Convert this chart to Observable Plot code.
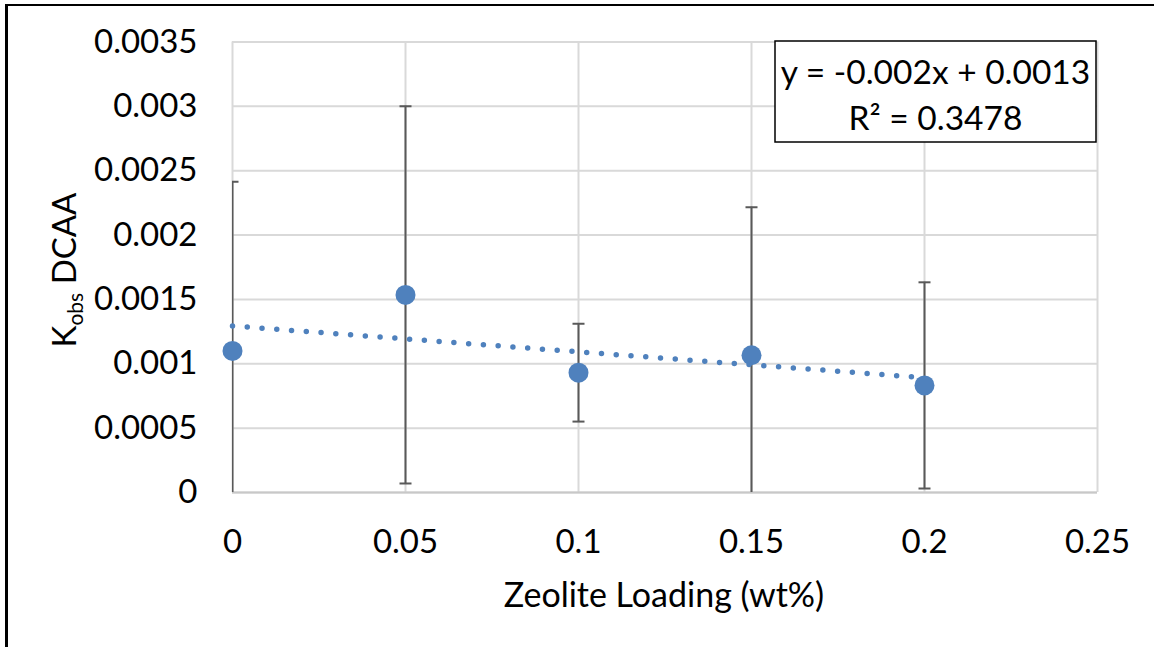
<!DOCTYPE html>
<html>
<head>
<meta charset="utf-8">
<script src="https://cdn.jsdelivr.net/npm/d3@7"></script>
<script src="https://cdn.jsdelivr.net/npm/@observablehq/plot@0.6"></script>
<style>
  html, body { margin: 0; padding: 0; background: #fff; }
  #chart { width: 1154px; height: 647px; overflow: hidden; }
</style>
</head>
<body>
<div id="chart"></div>
<script>
// ---- data ----
const loading = [0, 0.05, 0.1, 0.15, 0.2];                  // Zeolite Loading (wt%)
const kobs    = [0.00110, 0.001535, 0.000931, 0.001066, 0.000832]; // Kobs DCAA
const errs    = [0.001315, 0.001465, 0.000380, 0.001151, 0.000801]; // error bar +/- 
const xTicks  = [0, 0.05, 0.1, 0.15, 0.2, 0.25];
const yTicks  = [0, 0.0005, 0.001, 0.0015, 0.002, 0.0025, 0.003, 0.0035];
const eqLines = ["y = -0.002x + 0.0013", "R\u00B2 = 0.3478"];
const xTitle  = "Zeolite Loading (wt%)";

const rows = loading.map((x, i) => ({x, y: kobs[i], lo: kobs[i] - errs[i], hi: kobs[i] + errs[i]}));

const blue = "#4F81BD";
const errColor = "#595959";
const FONT = "Lato, 'Open Sans', sans-serif";

const capSymbol = {
  draw(ctx, size) {
    const w = 6;
    ctx.moveTo(-w, 0);
    ctx.lineTo(w, 0);
  }
};

const fmt = d => String(+d.toFixed(4));

const plot = Plot.plot({
  width: 1154,
  height: 647,
  marginLeft: 232,
  marginRight: 57,
  marginTop: 41.5,
  marginBottom: 155,
  style: {fontFamily: FONT, fontSize: "33px", color: "#000", background: "#fff"},
  x: {domain: [0, 0.25], ticks: xTicks, tickFormat: fmt, tickSize: 0, tickPadding: 37, label: null},
  y: {domain: [0, 0.0035], ticks: yTicks, tickFormat: fmt, tickSize: 0, tickPadding: 35, label: null},
  marks: [
    Plot.gridX(xTicks, {stroke: "#d9d9d9", strokeOpacity: 1, strokeWidth: 2}),
    Plot.gridY(yTicks, {stroke: "#d9d9d9", strokeOpacity: 1, strokeWidth: 2}),
    Plot.ruleY([0], {stroke: "#c8c8c8", strokeWidth: 2}),
    Plot.ruleX(rows, {x: "x", y1: "lo", y2: "hi", stroke: errColor, strokeWidth: 2, clip: true}),
    Plot.dot(rows, {x: "x", y: "hi", symbol: capSymbol, stroke: errColor, strokeWidth: 2, clip: true}),
    Plot.dot(rows, {x: "x", y: "lo", symbol: capSymbol, stroke: errColor, strokeWidth: 2, clip: true}),
    Plot.dot(rows, {x: "x", y: "y", r: 10, fill: blue, stroke: "none"}),
    Plot.linearRegressionY(rows, {x: "x", y: "y", ci: 0, stroke: blue, strokeWidth: 5.5,
      strokeDasharray: "0 14.8", strokeLinecap: "round"}),
    Plot.axisX(xTicks, {tickSize: 0, tickPadding: 37, tickFormat: fmt, fill: "#000", label: null}),
    Plot.axisY(yTicks, {tickSize: 0, tickPadding: 35, tickFormat: fmt, fill: "#000", label: null})
  ]
});

const svg = d3.select(plot);

// x axis title
svg.append("text")
  .attr("x", 664).attr("y", 598)
  .attr("text-anchor", "middle").attr("dominant-baseline", "middle")
  .attr("font-family", FONT).attr("font-size", 34).attr("fill", "#000")
  .text(xTitle);

// y axis title with subscript
const yt = svg.append("text")
  .attr("transform", "translate(76,270) rotate(-90)")
  .attr("text-anchor", "middle")
  .attr("font-family", FONT).attr("font-size", 33).attr("fill", "#000");
yt.append("tspan").text("K");
yt.append("tspan").attr("font-size", 21).attr("dy", 7).text("obs");
yt.append("tspan").attr("dy", -7).text(" DCAA");

// equation box
svg.append("rect")
  .attr("x", 775).attr("y", 41).attr("width", 321).attr("height", 101)
  .attr("fill", "#fff").attr("stroke", "#000").attr("stroke-width", 1.5);
eqLines.forEach((t, i) => {
  svg.append("text")
    .attr("x", 935.5).attr("y", 71 + i * 46)
    .attr("text-anchor", "middle").attr("dominant-baseline", "central")
    .attr("font-family", FONT).attr("font-size", 33.5).attr("fill", "#000")
    .text(t);
});

// outer chart border (left and top edges visible)
svg.append("line").attr("x1", 6.5).attr("x2", 6.5).attr("y1", 4).attr("y2", 647)
  .attr("stroke", "#000").attr("stroke-width", 3);
svg.append("line").attr("x1", 5).attr("x2", 1154).attr("y1", 5).attr("y2", 5)
  .attr("stroke", "#000").attr("stroke-width", 2);

document.getElementById("chart").appendChild(plot);
</script>
</body>
</html>
